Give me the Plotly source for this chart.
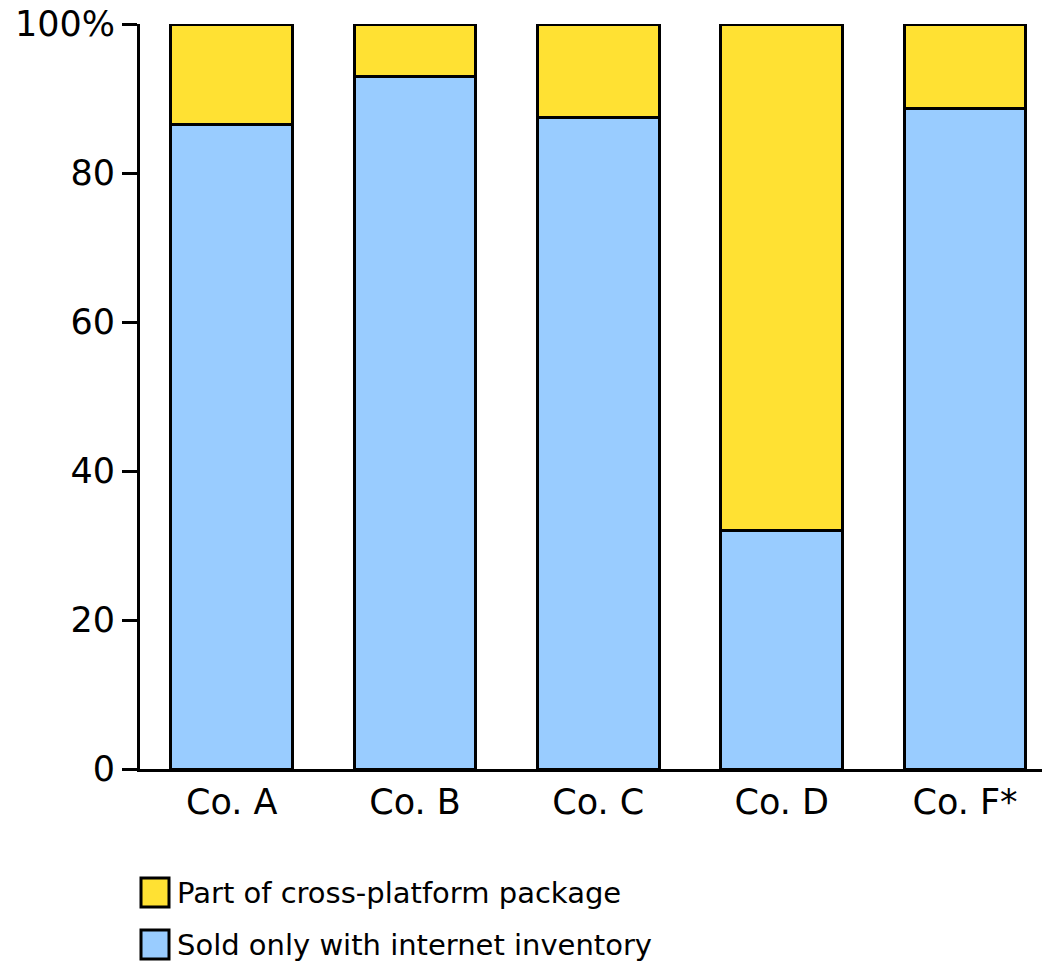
import plotly.graph_objects as go

# Share of inventory by company (percent)
companies = ["Co. A", "Co. B", "Co. C", "Co. D", "Co. F*"]
internet_only = [86.5, 93.0, 87.5, 32.0, 88.7]
cross_platform = [13.5, 7.0, 12.5, 68.0, 11.3]

series_names = ["Sold only with internet inventory", "Part of cross-platform package"]
series_colors = ["#99CCFF", "#FFE133"]

y_tickvals = [0, 20, 40, 60, 80, 100]
y_ticktext = ["0", "20", "40", "60", "80", "100%"]

FONT = "DejaVu Sans, Verdana, sans-serif"

fig = go.Figure()
for name, vals, color in zip(series_names, [internet_only, cross_platform], series_colors):
    fig.add_trace(go.Bar(
        x=companies, y=vals, name=name,
        marker=dict(color=color, line=dict(color="black", width=3)),
        width=0.665, cliponaxis=False, showlegend=False,
    ))

# Legend drawn as boxes + labels, cross-platform entry on top
legend_items = list(zip(series_names, series_colors))[::-1]
shapes = []
annotations = []
for i, (name, color) in enumerate(legend_items):
    top = 878 + i * 52
    shapes.append(dict(
        type="rect", xref="paper", yref="paper",
        x0=(141 - 140) / 902, x1=(169 - 140) / 902,
        y0=(769 - top) / 745, y1=(769 - (top + 29)) / 745,
        fillcolor=color, line=dict(color="black", width=3),
    ))
    annotations.append(dict(
        xref="paper", yref="paper", x=(175 - 140) / 902, y=(769 - (top + 15)) / 745,
        text=name, showarrow=False, xanchor="left", yanchor="middle",
        font=dict(family=FONT, size=29, color="black"),
    ))

fig.update_layout(
    barmode="stack",
    width=1042, height=963,
    margin=dict(l=140, r=0, t=24, b=194),
    paper_bgcolor="white", plot_bgcolor="white",
    font=dict(family=FONT, size=35, color="black"),
    shapes=shapes, annotations=annotations,
    xaxis=dict(
        type="category", range=[-0.5, 4.42],
        showline=True, linecolor="black", linewidth=3,
        ticks="", showgrid=False, zeroline=False,
        tickfont=dict(family=FONT, size=35, color="black"),
    ),
    yaxis=dict(
        range=[0, 100], tickvals=y_tickvals, ticktext=y_ticktext,
        showline=True, linecolor="black", linewidth=3,
        ticks="outside", ticklen=15, tickwidth=3, tickcolor="black",
        showgrid=False, zeroline=False,
        tickfont=dict(family=FONT, size=35, color="black"),
    ),
)

fig.write_html("out.html")
